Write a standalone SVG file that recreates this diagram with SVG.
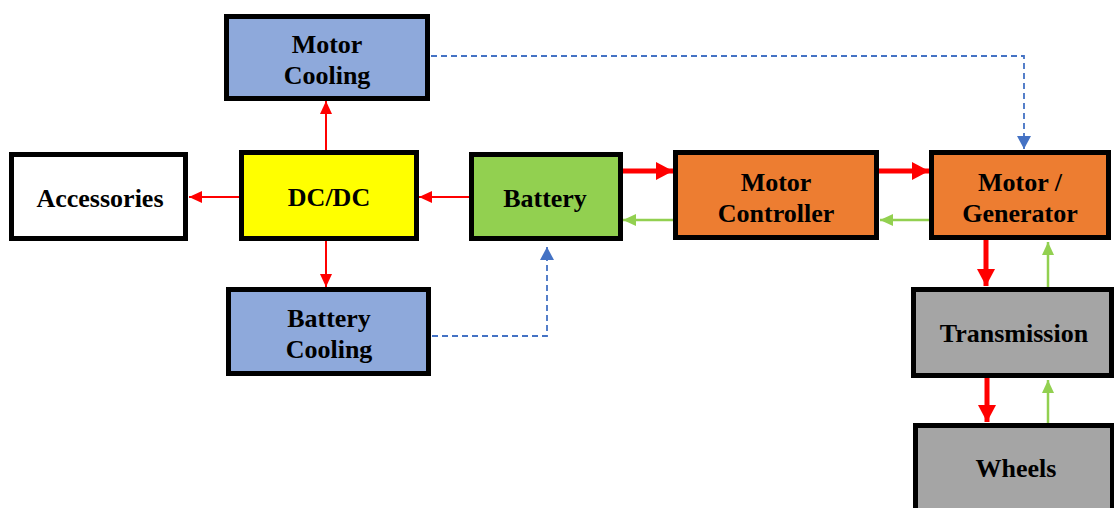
<svg xmlns="http://www.w3.org/2000/svg" width="1114" height="508" viewBox="0 0 1114 508">
<defs>
<style>
.box{stroke:#000;stroke-width:5}
.t{font-family:"Liberation Serif","Times New Roman",serif;font-weight:bold;font-size:26px;fill:#000;text-anchor:middle}
.rt{stroke:#FF0000;stroke-width:2;fill:none}
.rk{stroke:#FF0000;stroke-width:5;fill:none}
.gt{stroke:#92D050;stroke-width:2.5;fill:none}
.bd{stroke:#4472C4;stroke-width:1.8;fill:none;stroke-dasharray:6,4}
</style>
<marker id="mr" markerUnits="userSpaceOnUse" markerWidth="14" markerHeight="12" refX="13" refY="6" orient="auto"><path d="M0,0 L13,6 L0,12 Z" fill="#FF0000"/></marker>
<marker id="mrk" markerUnits="userSpaceOnUse" markerWidth="18" markerHeight="18" refX="17" refY="9" orient="auto"><path d="M0,0 L17,9 L0,18 Z" fill="#FF0000"/></marker>
<marker id="mg" markerUnits="userSpaceOnUse" markerWidth="14" markerHeight="12" refX="13" refY="6" orient="auto"><path d="M0,0 L13,6 L0,12 Z" fill="#92D050"/></marker>
<marker id="mb" markerUnits="userSpaceOnUse" markerWidth="14" markerHeight="14" refX="13" refY="7" orient="auto"><path d="M0,0 L13,7 L0,14 Z" fill="#4472C4"/></marker>
</defs>
<rect width="1114" height="508" fill="#fff"/>
<g id="connectors">
<line class="rt" x1="326" y1="150" x2="326" y2="101" marker-end="url(#mr)"/>
<line class="rt" x1="326" y1="241" x2="326" y2="287" marker-end="url(#mr)"/>
<line class="rt" x1="240" y1="197" x2="189" y2="197" marker-end="url(#mr)"/>
<line class="rt" x1="469" y1="197" x2="419" y2="197" marker-end="url(#mr)"/>
<line class="rk" x1="622" y1="171" x2="673" y2="171" marker-end="url(#mrk)"/>
<line class="gt" x1="673" y1="220" x2="623" y2="220" marker-end="url(#mg)"/>
<line class="rk" x1="879" y1="171" x2="929" y2="171" marker-end="url(#mrk)"/>
<line class="gt" x1="929" y1="220" x2="880" y2="220" marker-end="url(#mg)"/>
<line class="rk" x1="986" y1="240" x2="986" y2="286" marker-end="url(#mrk)"/>
<line class="gt" x1="1048" y1="287" x2="1048" y2="242" marker-end="url(#mg)"/>
<line class="rk" x1="987" y1="378" x2="987" y2="422" marker-end="url(#mrk)"/>
<line class="gt" x1="1048" y1="423" x2="1048" y2="380" marker-end="url(#mg)"/>
<polyline class="bd" points="431,56 1024,56 1024,149" marker-end="url(#mb)"/>
<polyline class="bd" points="432,336 547,336 547,247" marker-end="url(#mb)"/>
</g>
<g id="motor-cooling"><rect class="box" x="226.5" y="16.5" width="201" height="82" fill="#8EA9DB"/><text class="t" x="327" y="53">Motor</text><text class="t" x="327" y="84">Cooling</text></g>
<g id="accessories"><rect class="box" x="11.5" y="154.5" width="174" height="84" fill="#FFFFFF"/><text class="t" x="100" y="207">Accessories</text></g>
<g id="dcdc"><rect class="box" x="241.5" y="152.5" width="175" height="86" fill="#FFFF00"/><text class="t" x="329" y="206">DC/DC</text></g>
<g id="battery"><rect class="box" x="471.5" y="154.5" width="149" height="84" fill="#92D050"/><text class="t" x="545" y="207">Battery</text></g>
<g id="motor-controller"><rect class="box" x="675.5" y="152.5" width="201" height="85" fill="#ED7D31"/><text class="t" x="776" y="191">Motor</text><text class="t" x="776" y="222">Controller</text></g>
<g id="motor-generator"><rect class="box" x="931.5" y="152.5" width="177" height="85" fill="#ED7D31"/><text class="t" x="1020" y="191">Motor /</text><text class="t" x="1020" y="222">Generator</text></g>
<g id="transmission"><rect class="box" x="913.5" y="289.5" width="198" height="86" fill="#A5A5A5"/><text class="t" x="1014" y="342">Transmission</text></g>
<g id="wheels"><rect class="box" x="915.5" y="425.5" width="197" height="90" fill="#A5A5A5"/><text class="t" x="1016" y="477">Wheels</text></g>
<g id="battery-cooling"><rect class="box" x="228.5" y="289.5" width="200" height="84" fill="#8EA9DB"/><text class="t" x="329" y="327">Battery</text><text class="t" x="329" y="358">Cooling</text></g>
</svg>
